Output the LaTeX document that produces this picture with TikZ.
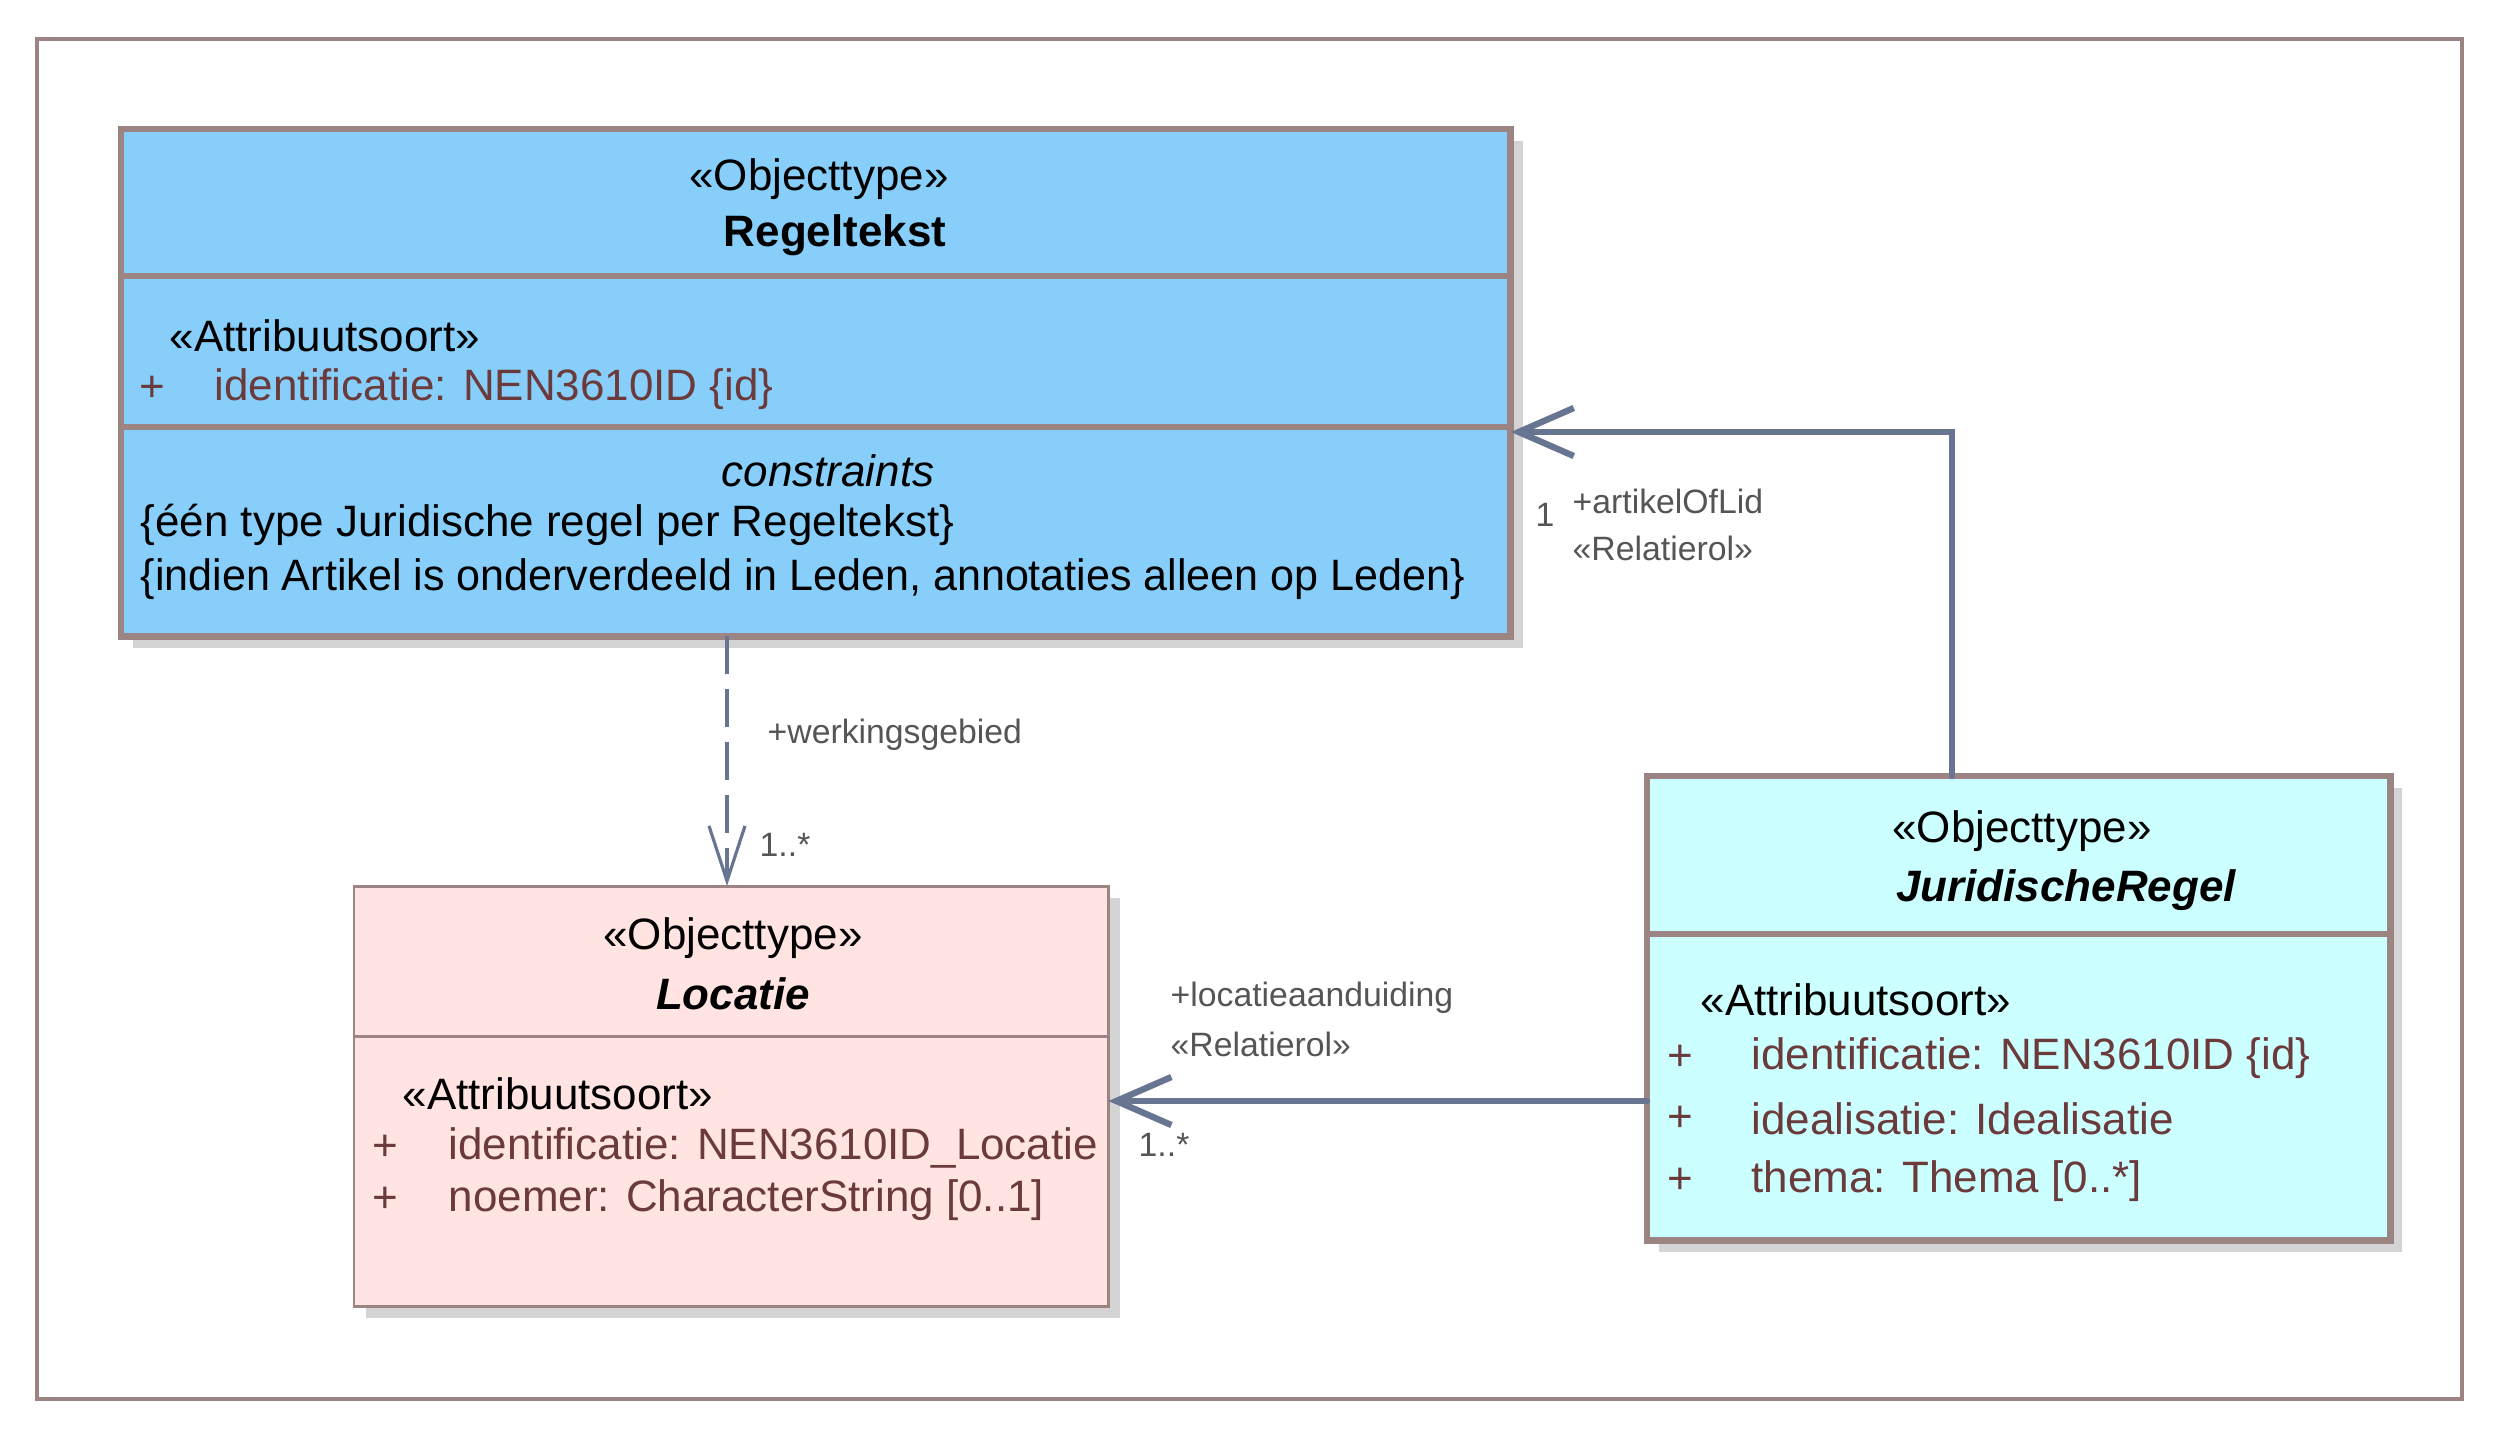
\documentclass[tikz,border=0pt]{standalone}
\usepackage{fontspec}
\setmainfont{Liberation Sans}
\usetikzlibrary{arrows.meta}
\usetikzlibrary{shadows}

\definecolor{umlborder}{RGB}{155,132,130}
\definecolor{umlshadow}{RGB}{212,212,212}
\definecolor{umlline}{RGB}{104,117,144}
\definecolor{umlattr}{RGB}{107,58,58}
\definecolor{umllabel}{RGB}{85,85,85}
\definecolor{regelblue}{RGB}{135,206,250}
\definecolor{juricyan}{RGB}{204,255,255}
\definecolor{locrose}{RGB}{255,228,225}

\newcommand{\clsfont}{\fontsize{12.5}{15}\selectfont}
\newcommand{\lblfont}{\fontsize{9.6}{11.5}\selectfont}

\begin{document}
\begin{tikzpicture}[x=0.01cm,y=-0.01cm,
  clsbox/.style={rectangle,draw=umlborder,inner sep=0,outer sep=0,anchor=north west,
    drop shadow={shadow xshift=0.12cm,shadow yshift=-0.12cm,fill=umlshadow,opacity=1}},
  txt/.style={font=\clsfont,inner sep=0,yshift=-0.04cm},
  attr/.style={font=\clsfont,inner sep=0,text=umlattr,yshift=-0.03cm},
  lbl/.style={font=\lblfont,inner sep=0,text=umllabel,anchor=west},
  assoc/.style={draw=umlline,line width=1.8pt,line cap=round,-{Straight Barb[length=0.55cm,width=0.48cm]}},
  depend/.style={draw=umlline,line width=0.9pt,dash pattern=on 0.38cm off 0.15cm,
    -{Straight Barb[length=0.55cm,width=0.36cm]}}]
\useasboundingbox (0,0) rectangle (2500,1439);
\draw[umlborder,line width=1.1pt] (37,39) rectangle (2462,1399);

% Regeltekst
\node[clsbox,fill=regelblue,line width=1.9pt,minimum width=13.89cm,minimum height=5.07cm] (regeltekst) at (121,129) {};
\draw[umlborder,line width=1.9pt] (regeltekst.west |- 0,276) -- (regeltekst.east |- 0,276);
\draw[umlborder,line width=1.9pt] (regeltekst.west |- 0,427) -- (regeltekst.east |- 0,427);
\node[txt] (rt-stereo) at (819,175) {«Objecttype»};
\node[txt,font=\clsfont\bfseries] (rt-name) at (835,231) {Regeltekst};
\node[txt,anchor=west] (rt-attsoort) at (169,332) {«Attribuutsoort»};
\node[attr] (rt-plus1) at (152,386) {+};
\node[attr,anchor=west] (rt-id) at (214,386) {identificatie: NEN3610ID \{id\}};
\node[txt,font=\clsfont\itshape] (rt-constr) at (828,467) {constraints};
\node[txt,anchor=west] (rt-c1) at (140,521) {\{één type Juridische regel per Regeltekst\}};
\node[txt,anchor=west,xscale=0.98] (rt-c2) at (140,575) {\{indien Artikel is onderverdeeld in Leden, annotaties alleen op Leden\}};

% Locatie
\node[clsbox,fill=locrose,line width=0.85pt,minimum width=7.54cm,minimum height=4.20cm] (locatie) at (354,886) {};
\draw[umlborder,line width=0.85pt] (locatie.west |- 0,1036) -- (locatie.east |- 0,1036);
\node[txt] (loc-stereo) at (733,934) {«Objecttype»};
\node[txt,font=\clsfont\bfseries\itshape] (loc-name) at (733,990) {Locatie};
\node[txt,anchor=west] (loc-attsoort) at (402,1090) {«Attribuutsoort»};
\node[attr] (loc-plus1) at (385,1145) {+};
\node[attr,anchor=west] (loc-id) at (448,1145) {identificatie: NEN3610ID\_Locatie};
\node[attr] (loc-plus2) at (385,1197) {+};
\node[attr,anchor=west] (loc-noemer) at (448,1197) {noemer: CharacterString [0..1]};

% JuridischeRegel
\node[clsbox,fill=juricyan,line width=1.9pt,minimum width=7.43cm,minimum height=4.64cm] (jurregel) at (1647,776) {};
\draw[umlborder,line width=1.9pt] (jurregel.west |- 0,934) -- (jurregel.east |- 0,934);
\node[txt] (jr-stereo) at (2022,827) {«Objecttype»};
\node[txt,font=\clsfont\bfseries\itshape] (jr-name) at (2066,886) {JuridischeRegel};
\node[txt,anchor=west] (jr-attsoort) at (1700,996) {«Attribuutsoort»};
\node[attr] (jr-plus1) at (1680,1055) {+};
\node[attr,anchor=west] (jr-id) at (1751,1055) {identificatie: NEN3610ID \{id\}};
\node[attr] (jr-plus2) at (1680,1116) {+};
\node[attr,anchor=west] (jr-ideal) at (1751,1116) {idealisatie: Idealisatie};
\node[attr] (jr-plus3) at (1680,1178) {+};
\node[attr,anchor=west] (jr-thema) at (1751,1178) {thema: Thema [0..*]};

% connectors
\draw[depend] (regeltekst.south -| 727,0) -- (locatie.north -| 727,0);
\node[lbl] (werk-role) at (767,735) {+werkingsgebied};
\node[lbl] (werk-mult) at (759,845) {1..*};

\draw[assoc] (jurregel.north -| 1952,0) |- (regeltekst.east |- 0,432);
\node[lbl] (art-mult) at (1535,515) {1};
\node[lbl] (art-role) at (1572,501) {+artikelOfLid};
\node[lbl] (art-stereo) at (1572,548) {«Relatierol»};

\draw[assoc] (jurregel.west |- 0,1101) -- (locatie.east |- 0,1101);
\node[lbl] (loc-role) at (1170,998) {+locatieaanduiding};
\node[lbl] (loc-stereo2) at (1170,1044) {«Relatierol»};
\node[lbl] (loc-mult) at (1138,1145) {1..*};
\end{tikzpicture}
\end{document}
